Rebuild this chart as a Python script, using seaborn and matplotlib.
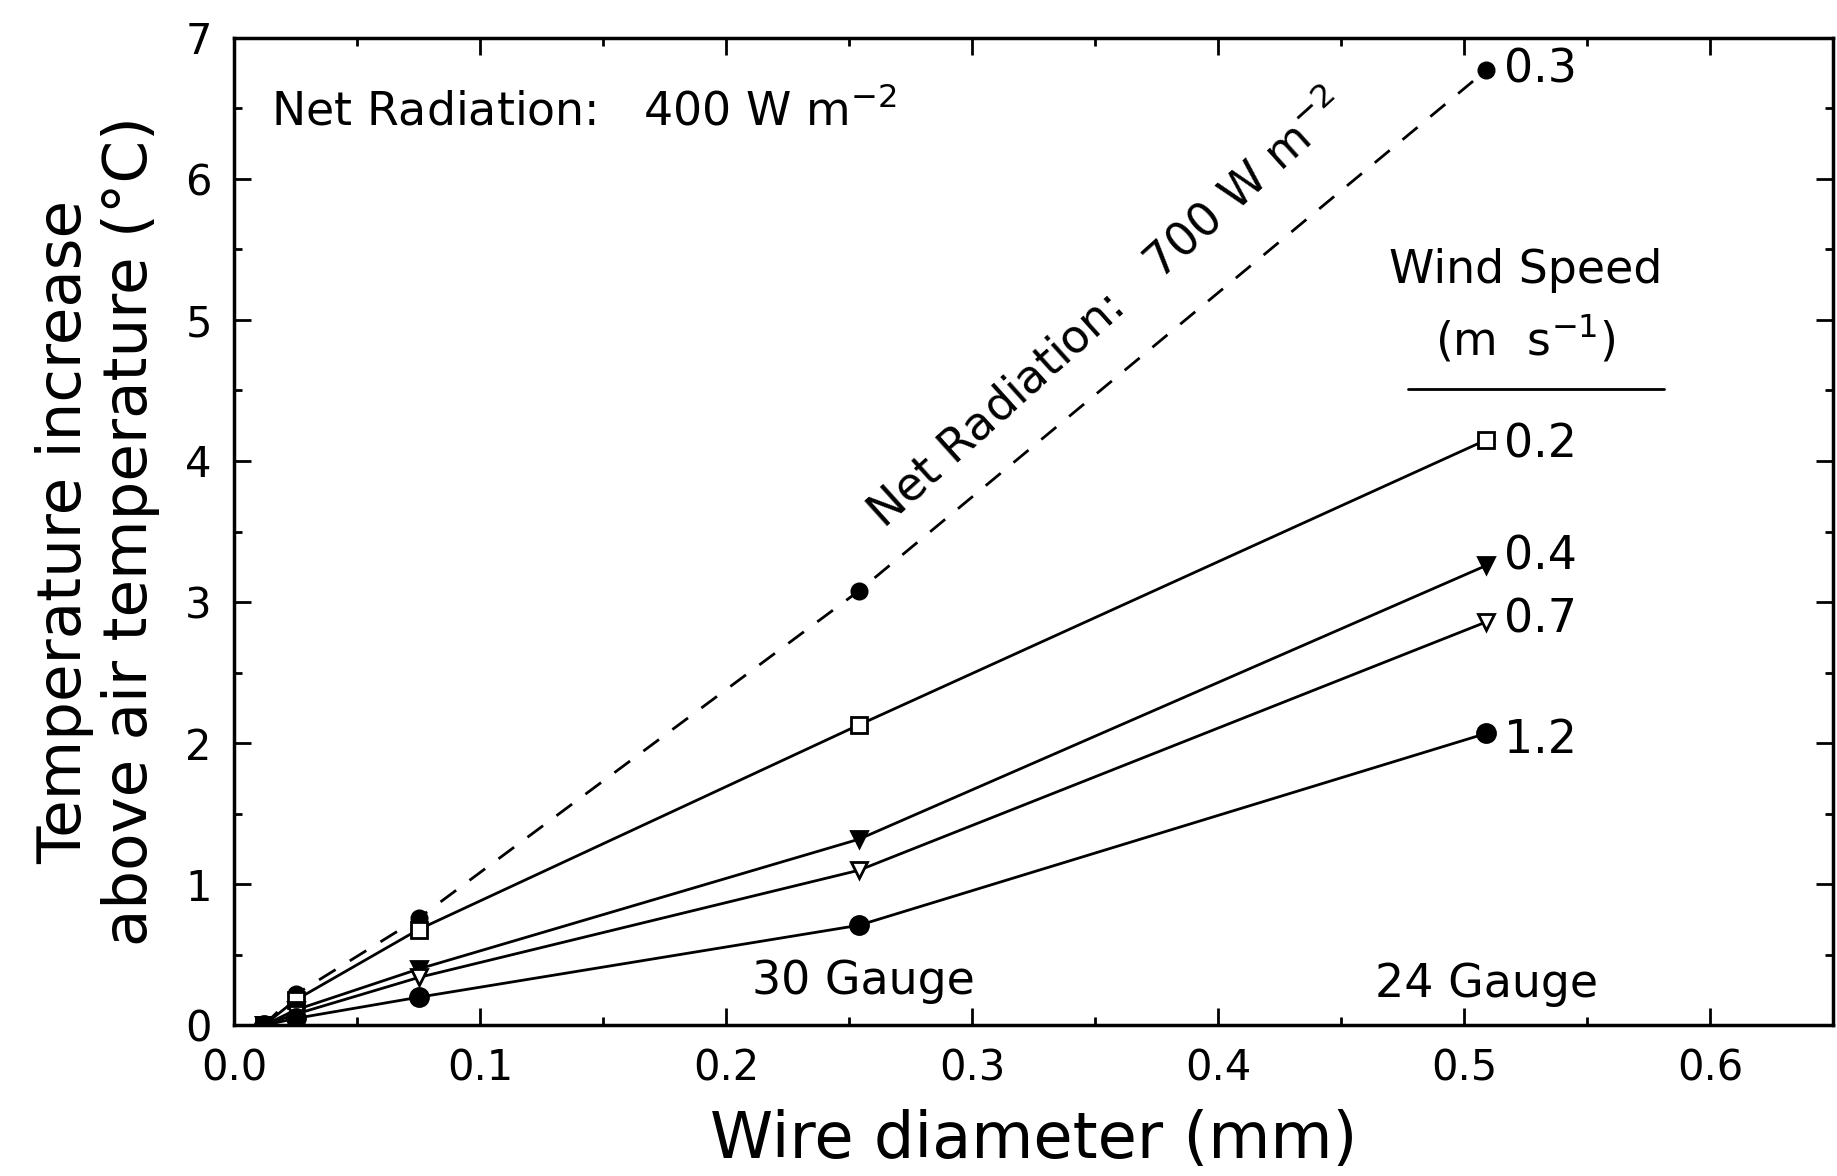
import matplotlib
matplotlib.use("Agg")
import matplotlib.pyplot as plt
import seaborn as sns
import numpy as np
import pandas as pd
from matplotlib.ticker import MultipleLocator

# ---- data ----
diameter = [0.012, 0.025, 0.075, 0.254, 0.509]
ws_labels = ["0.3", "0.2", "0.4", "0.7", "1.2"]
temp_03 = [0.00, 0.22, 0.76, 3.08, 6.77]   # 700 W m-2 (dashed)
temp_02 = [0.00, 0.18, 0.68, 2.13, 4.15]
temp_04 = [0.00, 0.11, 0.40, 1.32, 3.26]
temp_07 = [0.00, 0.08, 0.34, 1.10, 2.86]
temp_12 = [0.00, 0.05, 0.20, 0.71, 2.07]
x_ticks = [0.0, 0.1, 0.2, 0.3, 0.4, 0.5, 0.6]
y_ticks = [0, 1, 2, 3, 4, 5, 6, 7]

series = {"0.3": temp_03, "0.2": temp_02, "0.4": temp_04, "0.7": temp_07, "1.2": temp_12}
styles = {
    "0.3": dict(marker="o", ls="--", mfc="black", ms=11),
    "0.2": dict(marker="s", ls="-", mfc="white", ms=11),
    "0.4": dict(marker="v", ls="-", mfc="black", ms=12),
    "0.7": dict(marker="v", ls="-", mfc="white", ms=12),
    "1.2": dict(marker="o", ls="-", mfc="black", ms=13),
}
label_y = {"0.3": 6.77, "0.2": 4.11, "0.4": 3.32, "0.7": 2.87, "1.2": 2.02}

sns.set_theme(style="ticks")
plt.rcParams["font.family"] = ["DejaVu Sans"]
plt.rcParams["text.color"] = "black"
plt.rcParams["axes.labelcolor"] = "black"
plt.rcParams["xtick.color"] = "black"
plt.rcParams["ytick.color"] = "black"

fig = plt.figure(figsize=(18.37, 11.76), dpi=100)
ax = fig.add_axes([0.1274, 0.128, 0.8706, 0.840])

ann_fs = 33

for key in ws_labels:
    df = pd.DataFrame({"d": diameter, "t": series[key]})
    st = styles[key]
    sns.lineplot(data=df, x="d", y="t", ax=ax, color="black", linewidth=2,
                 marker=st["marker"], markersize=st["ms"], markerfacecolor=st["mfc"],
                 markeredgecolor="black", markeredgewidth=2, linestyle=st["ls"],
                 dashes=False, estimator=None, sort=False)
    ax.lines[-1].set_linestyle(st["ls"])
    if st["ls"] == "--":
        ax.lines[-1].set_dashes([7, 6])
    ax.text(0.516, label_y[key], key, fontsize=ann_fs, va="center", ha="left")

ax.set_xlim(0, 0.65)
ax.set_ylim(0, 7)
ax.set_xticks(x_ticks)
ax.set_xticklabels([f"{v:.1f}" for v in x_ticks])
ax.set_yticks(y_ticks)
ax.xaxis.set_minor_locator(MultipleLocator(0.05))
ax.yaxis.set_minor_locator(MultipleLocator(0.5))
ax.tick_params(which="both", direction="in", top=True, right=True, labelsize=30, width=2)
ax.tick_params(which="major", length=12, pad=16)
ax.tick_params(which="minor", length=6)
for s in ax.spines.values():
    s.set_linewidth(2.5)
    s.set_color("black")

ax.set_xlabel("Wire diameter (mm)", fontsize=46, labelpad=14)
ax.set_ylabel("Temperature increase\nabove air temperature (°C)", fontsize=44, labelpad=18,
              linespacing=1.15)

ax.text(0.015, 6.48, "Net Radiation:   400 W m$^{-2}$", fontsize=ann_fs, va="center", ha="left")
ax.text(0.355, 5.07, "Net Radiation:   700 W m$^{-2}$", fontsize=ann_fs, va="center", ha="center",
        rotation=42, rotation_mode="anchor")
ax.text(0.525, 5.35, "Wind Speed", fontsize=ann_fs, va="center", ha="center")
ax.text(0.525, 4.86, "(m  s$^{-1}$)", fontsize=ann_fs, va="center", ha="center")
ax.plot([0.477, 0.581], [4.51, 4.51], color="black", lw=2)
ax.text(0.256, 0.31, "30 Gauge", fontsize=ann_fs, va="center", ha="center")
ax.text(0.509, 0.29, "24 Gauge", fontsize=ann_fs, va="center", ha="center")

fig.savefig("out.png", dpi=100, facecolor="white")
